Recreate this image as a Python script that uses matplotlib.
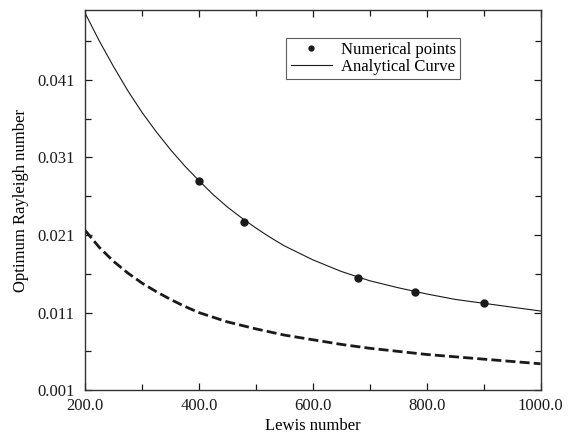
import numpy as np
import matplotlib
matplotlib.use("Agg")
import matplotlib.pyplot as plt
from matplotlib.ticker import FixedLocator, FormatStrFormatter
from matplotlib.legend_handler import HandlerLine2D

# ---------------------------------------------------------------------------
# Data
# ---------------------------------------------------------------------------

lewis_curve = [200, 225, 250, 275, 300, 325, 350, 375, 400, 425, 450, 475,
               500, 525, 550, 575, 600, 650, 700, 750, 800, 850, 900, 950,
               1000]
ra_analytical = [0.0496, 0.0460, 0.0427, 0.0396, 0.0368, 0.0343, 0.0320,
                 0.0299, 0.0280, 0.0262, 0.0246, 0.0232, 0.0219, 0.0207,
                 0.0196, 0.0187, 0.0178, 0.0163, 0.0151, 0.0142, 0.0134,
                 0.0127, 0.0122, 0.0117, 0.0112]

lewis_points = [400, 480, 680, 780, 900]
ra_numerical = [0.0280, 0.0227, 0.0155, 0.0136, 0.0122]

lewis_dashed = [200, 225, 250, 275, 300, 325, 350, 375, 400, 450, 500, 550,
                600, 650, 700, 750, 800, 850, 900, 950, 1000]
ra_dashed = [0.0216, 0.0194, 0.0176, 0.0161, 0.0148, 0.0137, 0.0127, 0.0118,
             0.0110, 0.0098, 0.0089, 0.0081, 0.0075, 0.0069, 0.0064, 0.0060,
             0.0056, 0.0053, 0.0050, 0.0047, 0.0044]

XTICKS = [200.0, 400.0, 600.0, 800.0, 1000.0]
XMINOR = [300.0, 500.0, 700.0, 900.0]
YTICKS = [0.001, 0.011, 0.021, 0.031, 0.041]
YMINOR = [0.006, 0.016, 0.026, 0.036, 0.046]


class RightMarkerHandler(HandlerLine2D):
    """Legend handle with the marker drawn at the right end."""

    def get_xdata(self, legend, xdescent, ydescent, width, height, fontsize):
        xdata = np.array([-xdescent, -xdescent + width])
        return xdata, np.array([-xdescent + width])


plt.rcParams["font.family"] = ["Liberation Serif", "DejaVu Serif"]
FS = 12

fig = plt.figure(figsize=(5.75, 4.34), dpi=100)
ax = fig.add_axes([0.148, 0.101, 0.792, 0.876])

ax.plot(lewis_dashed, ra_dashed, color="#1a1a1a", lw=2.0,
        linestyle=(0, (3.6, 1.5)))
line_an, = ax.plot(lewis_curve, ra_analytical, color="#1a1a1a", lw=0.8,
                   label="Analytical Curve")
pts, = ax.plot(lewis_points, ra_numerical, "o", color="#1a1a1a", ms=5,
               label="Numerical points")

ax.set_xlim(200, 1000)
ax.set_ylim(0.001, 0.050)
ax.set_xticks(XTICKS)
ax.set_yticks(YTICKS)
ax.xaxis.set_minor_locator(FixedLocator(XMINOR))
ax.yaxis.set_minor_locator(FixedLocator(YMINOR))
ax.xaxis.set_major_formatter(FormatStrFormatter("%.1f"))
ax.yaxis.set_major_formatter(FormatStrFormatter("%.3f"))
ax.tick_params(which="both", direction="in", top=True, right=True,
               labelsize=FS, width=0.9, colors="#1a1a1a")
ax.tick_params(which="major", length=5)
ax.tick_params(which="minor", length=4)
ax.tick_params(axis="x", which="major", pad=5.5)
ax.tick_params(axis="y", which="major", pad=7.5)
for s in ax.spines.values():
    s.set_linewidth(1.0)
    s.set_color("#333333")

ax.set_xlabel("Lewis number", fontsize=FS, labelpad=3)
ax.set_ylabel("Optimum Rayleigh number", fontsize=FS, labelpad=6)

leg = ax.legend(handles=[pts, line_an], loc="upper left",
                bbox_to_anchor=(0.442, 0.926), fontsize=FS,
                frameon=True, fancybox=False, edgecolor="#333333",
                handlelength=2.5, handletextpad=0.5, borderpad=0.25,
                borderaxespad=0.0, labelspacing=0.05, numpoints=1,
                markerscale=0.7,
                handler_map={pts: RightMarkerHandler(numpoints=1)})
leg.get_frame().set_linewidth(0.8)

fig.savefig("out.png", dpi=100)
